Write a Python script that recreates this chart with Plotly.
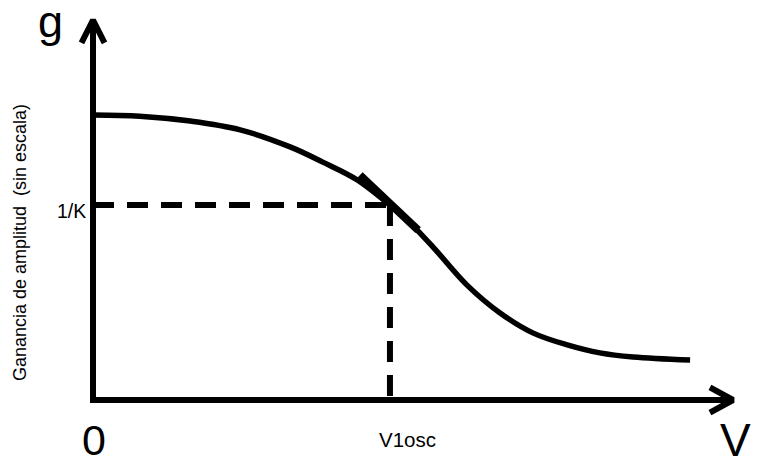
import plotly.graph_objects as go

# ---- data (V1 axis 0..100, gain axis 0..100, no scale) ----
curve_v1 = [0, 7.3, 15.2, 23.0, 30.8, 35.9, 41.3, 46.4, 48.0, 53.1, 58.4, 63.6, 68.8, 74.1, 79.2, 84.4, 93.3]
curve_g = [75.0, 74.7, 73.4, 71.1, 66.6, 62.6, 57.9, 51.3, 49.2, 40.3, 30.3, 22.9, 17.6, 14.5, 12.4, 11.3, 10.5]
v1_osc = 46.4
inv_k = 51.3
tangent_v1 = [41.7, 50.8]
tangent_g = [59.2, 44.7]
axis_max_v1 = 100
axis_max_g = 100

FONT = "Arial, Liberation Sans, sans-serif"
BLACK = "#000000"

fig = go.Figure()

# axes (L shape)
fig.add_trace(go.Scatter(x=[0, 0, axis_max_v1], y=[axis_max_g, 0, 0], mode="lines",
                         line=dict(color=BLACK, width=6), hoverinfo="skip"))
# arrowheads
fig.add_trace(go.Scatter(x=[-1.8, 0, 1.8], y=[axis_max_g - 6, axis_max_g, axis_max_g - 6], mode="lines",
                         line=dict(color=BLACK, width=6), hoverinfo="skip"))
fig.add_trace(go.Scatter(x=[axis_max_v1 - 3.6, axis_max_v1, axis_max_v1 - 3.6], y=[3.3, 0, -3.3], mode="lines",
                         line=dict(color=BLACK, width=6), hoverinfo="skip"))
# dashed guides
fig.add_trace(go.Scatter(x=[0, v1_osc], y=[inv_k, inv_k], mode="lines",
                         line=dict(color=BLACK, width=6, dash="21px,13px"), hoverinfo="skip"))
fig.add_trace(go.Scatter(x=[v1_osc, v1_osc], y=[inv_k, 0], mode="lines",
                         line=dict(color=BLACK, width=6, dash="21px,13px"), hoverinfo="skip"))
# curve
fig.add_trace(go.Scatter(x=curve_v1, y=curve_g, mode="lines",
                         line=dict(color=BLACK, width=5.5, shape="spline", smoothing=1.0), hoverinfo="skip"))
# tangent
fig.add_trace(go.Scatter(x=tangent_v1, y=tangent_g, mode="lines",
                         line=dict(color=BLACK, width=8), hoverinfo="skip"))

def ann(text, x, y, size, xanchor="center", yanchor="middle", angle=0):
    fig.add_annotation(text=text, x=x, y=y, xref="x", yref="y", showarrow=False,
                       xanchor=xanchor, yanchor=yanchor, textangle=angle,
                       font=dict(family=FONT, size=size, color=BLACK))

ann("g", -6.6, 99.7, 45)
ann("0", 0.1, -10.5, 43)
ann("V1osc", 49.1, -10.5, 20.5)
ann("V", 97.7, -10.5, 46, xanchor="left")
ann("1", 102.5, -14.6, 32, xanchor="left")
ann("1/K", -0.8, 49.8, 19.5, xanchor="right")
ann("Ganancia de amplitud&nbsp;&nbsp;(sin escala)", -11.4, 41.3, 18, angle=-90)

# the page body adds an 8px margin; size the figure to fill the 761x459 window exactly
W, H = 753, 451
px_per_x = 6.4
px_per_y = 3.8
x0_px, y0_px = 85, 392
fig.update_layout(
    width=W, height=H,
    margin=dict(l=0, r=0, t=0, b=0),
    paper_bgcolor="white", plot_bgcolor="white",
    showlegend=False,
    xaxis=dict(visible=False, range=[-x0_px / px_per_x, (W - x0_px) / px_per_x], fixedrange=True),
    yaxis=dict(visible=False, range=[-(H - y0_px) / px_per_y, y0_px / px_per_y], fixedrange=True),
)

fig.write_html("out.html")
